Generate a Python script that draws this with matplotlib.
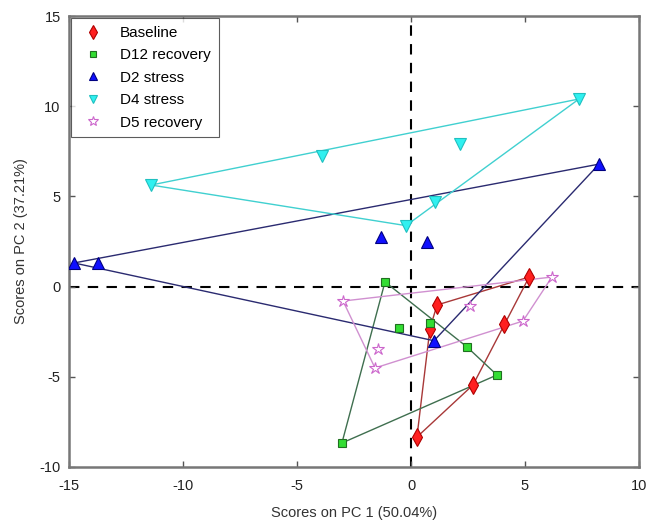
import numpy as np
import matplotlib
matplotlib.use("Agg")
import matplotlib.pyplot as plt

plt.rcParams['font.family'] = ['Liberation Sans', 'DejaVu Sans']
plt.rcParams['axes.unicode_minus'] = False

groups = ["Baseline", "D12 recovery", "D2 stress", "D4 stress", "D5 recovery"]

baseline_x = [5.18, 1.14, 0.83, 4.08, 2.72, 0.26]
baseline_y = [0.53, -1.02, -2.34, -2.07, -5.45, -8.34]

d12_x = [-1.14, -0.53, 0.83, 2.46, 3.77, -3.03]
d12_y = [0.26, -2.30, -2.00, -3.35, -4.90, -8.67]

d2_x = [-14.78, -13.73, -1.32, 0.70, 8.25, 1.01]
d2_y = [1.31, 1.31, 2.75, 2.47, 6.79, -3.00]

d4_x = [-11.40, -3.90, -0.22, 7.37, 2.15, 1.05]
d4_y = [5.63, 7.24, 3.38, 10.40, 7.90, 4.69]

d5_x = [6.18, 2.59, -2.98, 4.91, -1.45, -1.58]
d5_y = [0.53, -1.08, -0.80, -1.91, -3.46, -4.51]

data = [(baseline_x, baseline_y), (d12_x, d12_y), (d2_x, d2_y), (d4_x, d4_y), (d5_x, d5_y)]

# marker, size, face, edge, line colour
styles = [
    ("d", 9, "#ff2020", "#b00000", "#a83838"),
    ("s", 6, "#33dd33", "#207020", "#3f6f4f"),
    ("^", 8, "#1010ff", "#000080", "#2a2a70"),
    ("v", 8, "#30f0f0", "#20c0c0", "#40d0d0"),
    ("*", 9, "white", "#cc66cc", "#d090d0"),
]


def hull(xs, ys):
    # monotone chain convex hull
    pts = sorted(zip(xs, ys))

    def cross(o, a, b):
        return (a[0] - o[0]) * (b[1] - o[1]) - (a[1] - o[1]) * (b[0] - o[0])

    lower = []
    for p in pts:
        while len(lower) >= 2 and cross(lower[-2], lower[-1], p) <= 0:
            lower.pop()
        lower.append(p)
    upper = []
    for p in reversed(pts):
        while len(upper) >= 2 and cross(upper[-2], upper[-1], p) <= 0:
            upper.pop()
        upper.append(p)
    h = lower[:-1] + upper[:-1]
    h.append(h[0])
    return [p[0] for p in h], [p[1] for p in h]


fig = plt.figure(figsize=(6.5, 5.21), dpi=100)
ax = fig.add_axes([69 / 650, 54 / 521, 570 / 650, 451 / 521])

ax.axhline(0, color="black", linestyle=(0, (5, 4)), linewidth=1.5, zorder=1)
ax.axvline(0, color="black", linestyle=(0, (5, 4)), linewidth=1.5, zorder=1)

handles = []
for (xs, ys), name, (mk, ms, fc, ec, lc) in zip(data, groups, styles):
    hx, hy = hull(xs, ys)
    ax.plot(hx, hy, color=lc, linewidth=1.0, zorder=2)
    h, = ax.plot(xs, ys, linestyle="none", marker=mk, markersize=ms,
                 markerfacecolor=fc, markeredgecolor=ec, markeredgewidth=0.8,
                 label=name, zorder=3)
    handles.append(h)

ax.set_xlim(-15, 10)
ax.set_ylim(-10, 15)
ax.set_xticks([-15, -10, -5, 0, 5, 10])
ax.set_yticks([-10, -5, 0, 5, 10, 15])
ax.tick_params(direction="in", top=True, right=True, length=4, width=1,
               color="#555555", labelsize=10.5, labelcolor="#222222")
ax.tick_params(axis="x", pad=9)
ax.tick_params(axis="y", pad=6)
for s in ax.spines.values():
    s.set_color("#777777")
    s.set_linewidth(1.8)

ax.set_xlabel("Scores on PC 1 (50.04%)", fontsize=10.5, color="#333333", labelpad=9)
ax.set_ylabel("Scores on PC 2 (37.21%)", fontsize=10.5, color="#333333", labelpad=8)

leg = ax.legend(handles=handles, loc="upper left", fontsize=11, frameon=True,
                fancybox=False, edgecolor="#333333", borderaxespad=0.15,
                handlelength=1.8, handletextpad=0.9, labelspacing=0.55,
                borderpad=0.5, markerscale=0.8)
leg.get_frame().set_linewidth(0.8)

fig.savefig("out.png", dpi=100)
